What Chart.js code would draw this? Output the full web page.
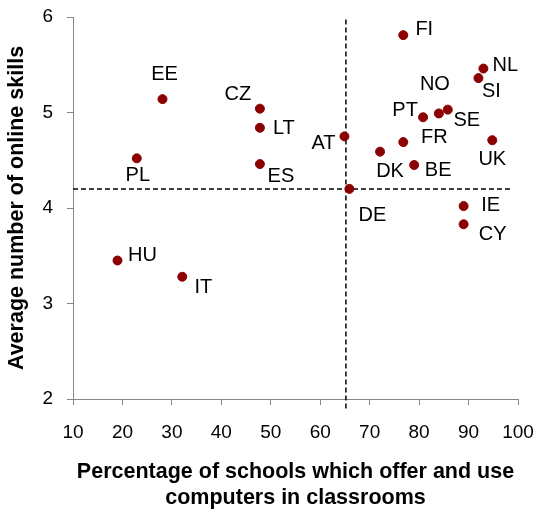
<!DOCTYPE html>
<html>
<head>
<meta charset="utf-8">
<script src="https://cdn.jsdelivr.net/npm/chart.js@4.4.1/dist/chart.umd.min.js"></script>
<style>
  html, body { margin: 0; padding: 0; background: #fff; }
  #wrap { width: 540px; height: 513px; }
</style>
</head>
<body>
<div id="wrap"><canvas id="chart"></canvas></div>
<script>
// Data
const countries = ['EE', 'PL', 'CZ', 'LT', 'ES', 'HU', 'IT', 'AT', 'DE', 'FI', 'NL',
                   'SI', 'NO', 'PT', 'SE', 'FR', 'DK', 'BE', 'UK', 'IE', 'CY'];
const schoolsPct = [28.1, 22.9, 47.8, 47.8, 47.8, 19.0, 32.1, 64.9, 65.9, 76.8, 93.0,
                    92.0, 84.0, 80.8, 85.8, 76.8, 72.1, 79.0, 94.8, 89.0, 89.0];
const onlineSkills = [5.14, 4.52, 5.04, 4.84, 4.46, 3.45, 3.28, 4.75, 4.20, 5.81, 5.46,
                      5.36, 4.99, 4.95, 5.03, 4.69, 4.59, 4.45, 4.71, 4.02, 3.83];

// reference (average) lines
const refX = 65.2;
const refY = 4.2;
const refXSpan = [1.9, 6.0];   // vertical line pokes a little below the axis
const refYSpan = [10, 99];

// axis ticks
const xTicks = [10, 20, 30, 40, 50, 60, 70, 80, 90, 100];
const yTicks = [2, 3, 4, 5, 6];

const xTitle = ['Percentage of schools which offer and use', 'computers in classrooms'];
const yTitle = 'Average number of online skills';

// label placement (pixel offsets from each dot)
const labelOffsets = {
  EE: [2, -25], PL: [1, 17], CZ: [-22, -14], LT: [24, 1], ES: [21, 12],
  HU: [25, -5], IT: [21, 11], AT: [-21, 7], DE: [23, 27], FI: [21, -6],
  NL: [22, -3], SI: [13, 13], NO: [-4, -29], PT: [-18, -7], SE: [19, 11],
  FR: [31, -5], DK: [10, 20], BE: [24, 5], UK: [0, 19], IE: [27, -1], CY: [29, 10]
};

const FONT = "'Liberation Sans', Arial, sans-serif";
const axisGrey = '#868686';

const points = countries.map((c, i) => ({ x: schoolsPct[i], y: onlineSkills[i] }));

const labelPlugin = {
  id: 'countryLabels',
  afterDatasetsDraw(chart) {
    const ctx = chart.ctx;
    const meta = chart.getDatasetMeta(0);
    ctx.save();
    ctx.font = '20px ' + FONT;
    ctx.fillStyle = '#000';
    ctx.textAlign = 'center';
    ctx.textBaseline = 'middle';
    meta.data.forEach((pt, i) => {
      const off = labelOffsets[countries[i]] || [0, 0];
      ctx.fillText(countries[i], pt.x + off[0], pt.y + off[1]);
    });
    ctx.restore();
  }
};

// stop the scales from pushing the plot area in for overflowing tick labels
function noOverflow(scale) {
  scale.paddingTop = 0;
  scale.paddingBottom = 0;
  scale.paddingLeft = 0;
  scale.paddingRight = 0;
}

new Chart(document.getElementById('chart'), {
  type: 'scatter',
  data: {
    datasets: [
      {
        label: 'countries',
        data: points,
        backgroundColor: '#8b0000',
        borderColor: '#8b0000',
        pointRadius: 4.5,
        pointHoverRadius: 4.5
      },
      {
        type: 'line',
        label: 'avgY',
        data: [{ x: refYSpan[0], y: refY }, { x: refYSpan[1], y: refY }],
        borderColor: '#000',
        borderWidth: 1.5,
        borderDash: [5, 3],
        pointRadius: 0,
        fill: false
      },
      {
        type: 'line',
        label: 'avgX',
        data: [{ x: refX, y: refXSpan[0] }, { x: refX, y: refXSpan[1] }],
        borderColor: '#000',
        borderWidth: 1.5,
        borderDash: [5, 3],
        pointRadius: 0,
        fill: false,
        clip: false
      }
    ]
  },
  options: {
    responsive: true,
    maintainAspectRatio: false,
    animation: false,
    layout: { padding: { top: 17, right: 22, left: 0, bottom: 0 } },
    plugins: {
      legend: { display: false },
      tooltip: { enabled: false }
    },
    scales: {
      x: {
        type: 'linear',
        min: xTicks[0],
        max: xTicks[xTicks.length - 1],
        afterBuildTicks(scale) { scale.ticks = xTicks.map(v => ({ value: v })); },
        afterFit(scale) { scale.height = 114; noOverflow(scale); },
        grid: { drawOnChartArea: false, color: axisGrey, tickLength: 6 },
        border: { color: axisGrey, width: 1 },
        ticks: { color: '#000', font: { family: FONT, size: 19 }, padding: 16 },
        title: {
          display: true,
          text: xTitle,
          color: '#000',
          font: { family: FONT, size: 21.5, weight: 'bold', lineHeight: 1.21 },
          padding: { top: 0, bottom: 2 }
        }
      },
      y: {
        type: 'linear',
        min: yTicks[0],
        max: yTicks[yTicks.length - 1],
        afterBuildTicks(scale) { scale.ticks = yTicks.map(v => ({ value: v })); },
        afterFit(scale) { scale.width = 73; noOverflow(scale); },
        grid: { drawOnChartArea: false, color: axisGrey, tickLength: 6 },
        border: { color: axisGrey, width: 1 },
        ticks: { color: '#000', font: { family: FONT, size: 19 }, padding: 14 },
        title: {
          display: true,
          text: yTitle,
          color: '#000',
          font: { family: FONT, size: 21.5, weight: 'bold' },
          padding: { top: 4, bottom: 0 }
        }
      }
    }
  },
  plugins: [labelPlugin]
});
</script>
</body>
</html>
